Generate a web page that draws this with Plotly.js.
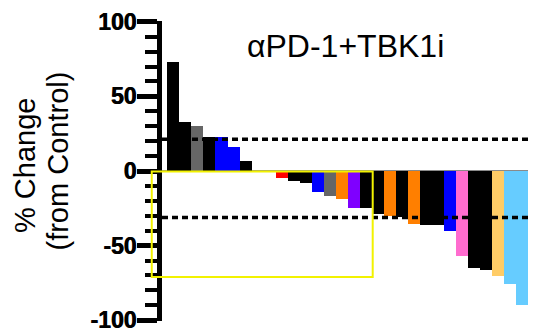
<!DOCTYPE html>
<html>
<head>
<meta charset="utf-8">
<script src="https://cdn.plot.ly/plotly-3.0.1.min.js"></script>
<style>html,body{margin:0;padding:0;background:#fff;}#chart{width:538px;height:332px;}</style>
</head>
<body>
<div id="chart"></div>
<script>
// Per-subject % change from control, sorted (waterfall)
const subjects = ["S1","S2","S3","S4","S5","S6","S7","S8","S9","S10","S11","S12","S13","S14","S15",
                  "S16","S17","S18","S19","S20","S21","S22","S23","S24","S25","S26","S27","S28","S29","S30"];
const pctChange = [73, 33, 30, 23, 23, 16, 6.5, 0, 0, -4.5, -6.5, -8, -14, -16.5, -19,
                   -25, -25, -28.5, -30, -31, -35.5, -36, -36, -40.5, -57, -65, -66.5, -70.5, -76, -90];
const barColors = ["#000000","#000000","#666666","#000000","#0000ff","#0000ff","#000000","#000000","#000000","#ff0000",
                   "#000000","#000000","#0000ff","#666666","#ff7f00","#7f00ff","#000000","#000000","#ff7f00","#000000",
                   "#ff7f00","#000000","#000000","#0000ff","#ff6ccf","#000000","#000000","#ffcc66","#66ccff","#66ccff"];
const upperThreshold = 21.3;
const lowerThreshold = -31.2;
const yTicks = [-100, -50, 0, 50, 100];
const yMinorTicks = [-90,-80,-70,-60,-40,-30,-20,-10,10,20,30,40,60,70,80,90];
const titleText = "αPD-1+TBK1i";
const yTitleLine1 = "% Change";
const yTitleLine2 = "(from Control)";

const trace = {
  type: "bar",
  x: subjects.map((s, i) => i),
  y: pctChange,
  marker: {color: barColors, line: {width: 0}},
  hoverinfo: "skip"
};

const fontFam = "Liberation Sans, Arial, sans-serif";

const layout = {
  width: 538, height: 332,
  margin: {l: 162, r: 10, t: 21, b: 11},
  paper_bgcolor: "#fff", plot_bgcolor: "#fff",
  showlegend: false,
  bargap: 0,
  xaxis: {range: [-0.95, 29.5], visible: false, showgrid: false, zeroline: false, fixedrange: true},
  yaxis: {
    range: [-100.5, 100.5], tickvals: yTicks, ticktext: yTicks.map(String),
    ticks: "outside", ticklen: 20, tickwidth: 5, tickcolor: "#000",
    showline: true, linewidth: 5, linecolor: "#000",
    showgrid: false, zeroline: true, zerolinecolor: "#8a8a8a", zerolinewidth: 2,
    minor: {tickvals: yMinorTicks, ticks: "outside", ticklen: 12, tickwidth: 4, tickcolor: "#000", showgrid: false},
    tickfont: {family: fontFam, size: 23, color: "#000", weight: "bold", shadow: "0.6px 0 0 #000"},
    ticklabelstandoff: -4,
    ticklabeloverflow: "allow",
    fixedrange: true
  },
  shapes: [
    {type: "line", xref: "paper", x0: 0, x1: 1, yref: "y", y0: upperThreshold, y1: upperThreshold,
     line: {color: "#000", width: 3.5, dash: "6px,4px"}, layer: "above"},
    {type: "line", xref: "paper", x0: 0, x1: 1, yref: "y", y0: lowerThreshold, y1: lowerThreshold,
     line: {color: "#000", width: 3.5, dash: "6px,4px"}, layer: "above"},
    {type: "rect", xref: "paper", yref: "paper", x0: -0.028, x1: 0.5757, y0: 0.1467, y1: 0.4983,
     line: {color: "#f2f200", width: 2}, fillcolor: "rgba(0,0,0,0)", layer: "above"}
  ],
  annotations: [
    {text: titleText, xref: "paper", yref: "paper", x: 0.501, y: 0.918, xanchor: "center", yanchor: "middle",
     showarrow: false, font: {family: fontFam, size: 32, color: "#000"}},
    {text: yTitleLine1, xref: "paper", yref: "paper", x: 0, y: 0.5, xanchor: "center", yanchor: "middle",
     xshift: -137, yshift: 5, textangle: -90, showarrow: false,
     font: {family: fontFam, size: 29, color: "#000"}},
    {text: yTitleLine2, xref: "paper", yref: "paper", x: 0, y: 0.5, xanchor: "center", yanchor: "middle",
     xshift: -104.5, yshift: 10, textangle: -90, showarrow: false,
     font: {family: fontFam, size: 29, color: "#000"}}
  ]
};

Plotly.newPlot("chart", [trace], layout, {staticPlot: true, displayModeBar: false});
</script>
</body>
</html>
